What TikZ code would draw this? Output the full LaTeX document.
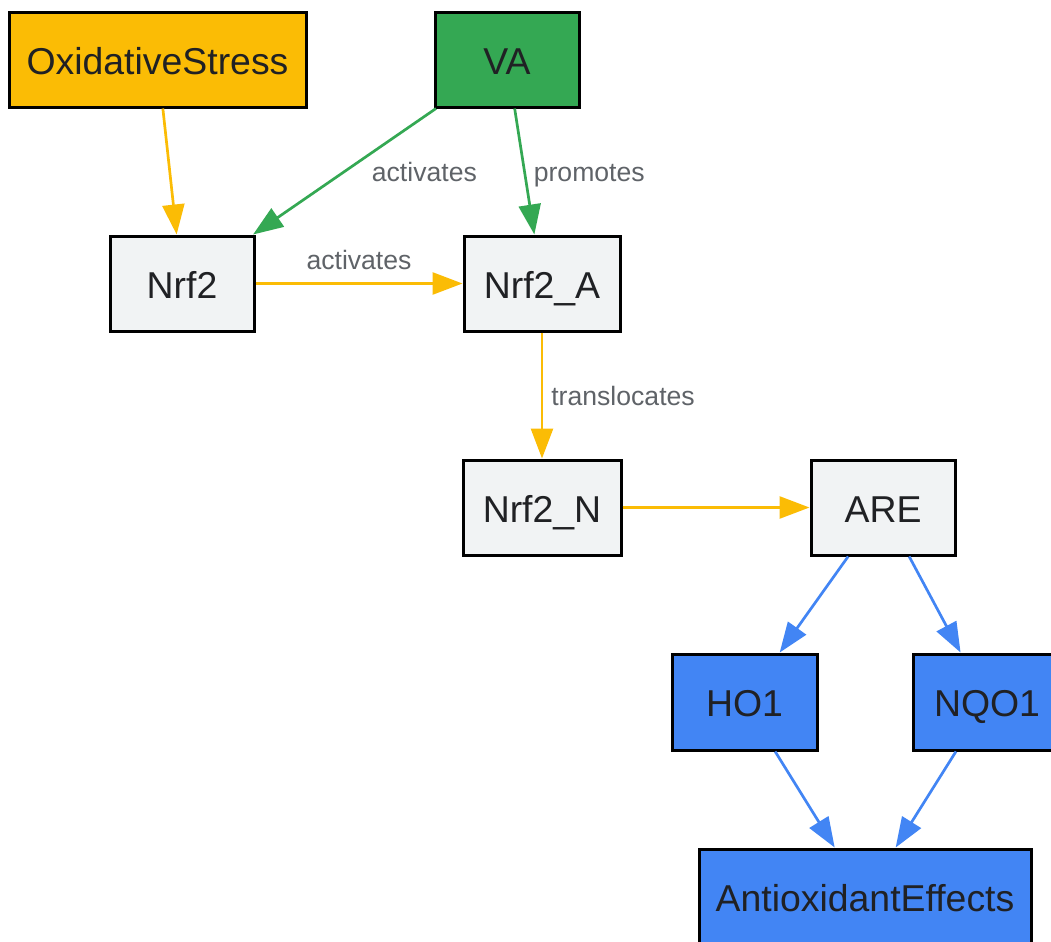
\documentclass[tikz,border=0pt]{standalone}
\definecolor{stressyellow}{RGB}{251, 188, 5}
\definecolor{vagreen}{RGB}{52, 168, 83}
\definecolor{genblue}{RGB}{66, 133, 244}
\definecolor{boxgray}{RGB}{241, 243, 244}
\definecolor{textdark}{RGB}{32, 33, 36}
\definecolor{labelgray}{RGB}{95, 99, 104}
\usepackage{fontspec}
\setmainfont{Liberation Sans}
\usepackage{tikz}
\usetikzlibrary{arrows.meta, positioning}

\begin{document}
\begin{tikzpicture}[
  x=0.5pt, y=-0.5pt,
  box/.style={draw=black, line width=1.5pt, minimum height=47.5pt, inner sep=0pt, text height=14.8pt, text depth=0pt, text=textdark, font=\fontsize{18.7}{22}\selectfont},
  arrow/.style={-{Triangle[length=15pt, width=11pt]}, line width=1.35pt},
  lbl/.style={font=\fontsize{13.3}{15}\selectfont, text=labelgray, inner sep=4pt, text height=9.7pt, text depth=0pt}
]
  \useasboundingbox (0,0) rectangle (1051,942);
  \clip (0,0) rectangle (1051,942);

  % Inputs
  \node[box, fill=stressyellow, minimum width=148.5pt] (stress) at (157.5, 59.5) {OxidativeStress};
  \node[box, fill=vagreen, minimum width=72pt] (va) at (507, 59.5) {VA};

  % Nrf2 states
  \node[box, fill=boxgray, minimum width=72pt] (nrf2) at (182, 283.5) {Nrf2};
  \node[box, fill=boxgray, minimum width=78pt] (nrf2a) at (542, 283.5) {Nrf2\_A};
  \node[box, fill=boxgray, minimum width=79pt] (nrf2n) at (542, 507.5) {Nrf2\_N};
  \node[box, fill=boxgray, minimum width=72pt] (are) at (883, 507.5) {ARE};

  % Target genes
  \node[box, fill=genblue, minimum width=72.5pt, minimum height=48pt] (ho1) at (744.5, 702) {HO1};
  \node[box, fill=genblue, minimum width=74pt, minimum height=48pt] (nqo1) at (987, 702) {NQO1};
  \node[box, fill=genblue, minimum width=166pt] (effects) at (865, 896.5) {AntioxidantEffects};

  % Signalling
  \draw[arrow, stressyellow] (stress) -- (nrf2);
  \draw[arrow, vagreen] (va) -- (nrf2) node[lbl, midway, right=9pt] {activates};
  \draw[arrow, vagreen] (va) -- (nrf2a) node[lbl, midway, right] {promotes};
  \draw[arrow, stressyellow] (nrf2) -- (nrf2a) node[lbl, midway, above=2.5pt] {activates};
  \draw[arrow, stressyellow] (nrf2a) -- (nrf2n) node[lbl, midway, right] {translocates};
  \draw[arrow, stressyellow] (nrf2n) -- (are);

  % Response
  \draw[arrow, genblue] (are) -- (ho1);
  \draw[arrow, genblue] (are) -- (nqo1);
  \draw[arrow, genblue] (ho1) -- (effects);
  \draw[arrow, genblue] (nqo1) -- (effects);
\end{tikzpicture}
\end{document}
